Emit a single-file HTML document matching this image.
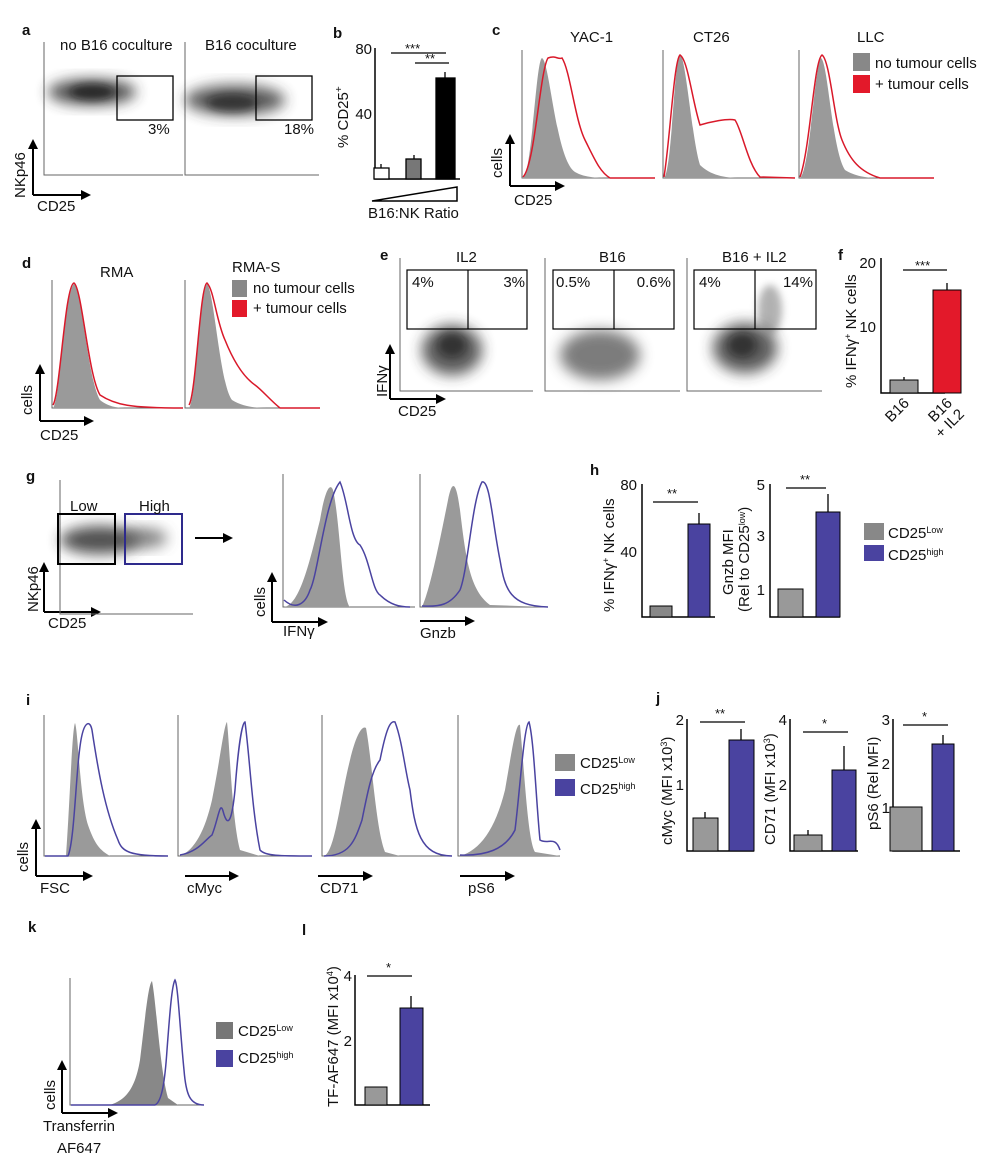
<!DOCTYPE html>
<html><head><style>
body{margin:0;background:#fff}
svg{display:block}
text{font-family:"Liberation Sans",Arial,sans-serif;fill:#111}
.L{font-weight:bold;font-size:15px}
.t{font-size:15px}
.s{font-size:13px}
.e{text-anchor:end}
</style></head><body>
<svg width="1000" height="1173" viewBox="0 0 1000 1173" xmlns="http://www.w3.org/2000/svg">
<defs>
<filter id="bl" x="-40%" y="-40%" width="180%" height="180%"><feGaussianBlur stdDeviation="7"/></filter>
<filter id="bl2" x="-40%" y="-40%" width="180%" height="180%"><feGaussianBlur stdDeviation="4"/></filter>
<marker id="ar" markerWidth="10" markerHeight="10" refX="7" refY="5" orient="auto" markerUnits="userSpaceOnUse"><path d="M0,0 L10,5 L0,10z" fill="#000"/></marker>
</defs>
<g stroke="#000" stroke-width="2" fill="none" marker-end="url(#ar)">
<path d="M33,195 V142"/><path d="M33,195 H88"/>
<path d="M510,186 V137"/><path d="M510,186 H562"/>
<path d="M40,421 V367"/><path d="M40,421 H91"/>
<path d="M390,399 V347"/><path d="M390,399 H443"/>
<path d="M44,612 V565"/><path d="M44,612 H98"/>
<path d="M272,622 V575"/><path d="M272,622 H325"/>
<path d="M420,621 H472"/>
<path d="M195,538 H230"/>
<path d="M36,876 V822"/><path d="M36,876 H90"/>
<path d="M185,876 H236"/><path d="M318,876 H370"/><path d="M460,876 H512"/>
<path d="M62,1113 V1063"/><path d="M62,1113 H115"/>
</g>
<text class="L" x="22" y="35">a</text><text class="L" x="333" y="38">b</text><text class="L" x="492" y="35">c</text>
<text class="L" x="22" y="268">d</text><text class="L" x="380" y="260">e</text><text class="L" x="838" y="260">f</text>
<text class="L" x="26" y="481">g</text><text class="L" x="590" y="475">h</text>
<text class="L" x="26" y="705">i</text><text class="L" x="656" y="703">j</text>
<text class="L" x="28" y="932">k</text><text class="L" x="302" y="935">l</text>
<!-- a -->
<path d="M44,42 V175 H183 M185,42 V175 H319" stroke="#666" stroke-width="1" fill="none"/>
<ellipse cx="92" cy="92" rx="44" ry="13" fill="#333" opacity="0.85" filter="url(#bl)"/>
<ellipse cx="92" cy="92" rx="22" ry="8" fill="#111" opacity="0.6" filter="url(#bl2)"/>
<ellipse cx="235" cy="100" rx="50" ry="15" fill="#333" opacity="0.8" filter="url(#bl)"/>
<ellipse cx="232" cy="103" rx="25" ry="9" fill="#111" opacity="0.5" filter="url(#bl2)"/>
<g stroke="#000" stroke-width="1.3" fill="none"><rect x="117" y="76" width="56" height="44"/><rect x="256" y="76" width="56" height="44"/></g>
<text class="t" x="60" y="50">no B16 coculture</text><text class="t" x="205" y="50">B16 coculture</text>
<text class="t" x="148" y="134">3%</text><text class="t" x="284" y="134">18%</text>
<text class="t" transform="translate(25,198) rotate(-90)">NKp46</text><text class="t" x="37" y="211">CD25</text>
<!-- b -->
<path d="M375,48 V179 H460" stroke="#000" stroke-width="1.5" fill="none"/>
<text class="t e" x="372" y="54">80</text><text class="t e" x="372" y="119">40</text>
<text class="t" transform="translate(348,148) rotate(-90)">% CD25<tspan dy="-6" font-size="10">+</tspan></text>
<g stroke="#000" stroke-width="1.3"><rect x="374" y="168" width="15" height="11" fill="#fff"/><rect x="406" y="159" width="15" height="20" fill="#777"/><rect x="436" y="78" width="19" height="101" fill="#000"/>
<path d="M381,168V164M414,159V155M445,78V72M391,53H446M415,63H449" fill="none"/></g>
<text class="s" x="405" y="53">***</text><text class="s" x="425" y="63">**</text>
<path d="M372,201 L457,187 V201Z" fill="none" stroke="#000" stroke-width="1.5"/>
<text class="t" x="368" y="218">B16:NK Ratio</text>
<!-- c -->
<path d="M522,50V178H655M663,50V178H795M799,50V178H934" stroke="#666" stroke-width="1" fill="none"/>
<path d="M523,178 C532,172 536,60 542,58 C550,62 556,160 575,172 C585,178 600,178 610,178Z" fill="#9a9a9a"/>
<path d="M523,177 C535,165 540,70 548,58 C556,55 558,60 562,58 C570,70 575,120 585,140 C595,160 600,172 610,178 L655,178" stroke="#d9192a" stroke-width="1.5" fill="none"/>
<path d="M664,178 C672,170 674,60 680,54 C686,58 692,140 700,165 C710,175 725,178 740,178Z" fill="#9a9a9a"/>
<path d="M664,177 C670,140 674,60 680,55 C688,60 692,100 700,125 C710,122 728,118 735,120 C742,130 748,165 760,177 L795,178" stroke="#d9192a" stroke-width="1.5" fill="none"/>
<path d="M800,178 C810,170 815,62 821,58 C828,62 832,150 845,170 C855,176 865,178 880,178Z" fill="#9a9a9a"/>
<path d="M800,177 C810,150 814,60 822,55 C830,60 834,120 842,140 C850,160 860,172 880,178 L934,178" stroke="#d9192a" stroke-width="1.5" fill="none"/>
<text class="t" x="570" y="42">YAC-1</text><text class="t" x="693" y="42">CT26</text><text class="t" x="857" y="42">LLC</text>
<rect x="853" y="53" width="17" height="18" fill="#888"/><rect x="853" y="75" width="17" height="18" fill="#e3192a"/>
<text class="t" x="875" y="68">no tumour cells</text><text class="t" x="875" y="89">+ tumour cells</text>
<text class="t" transform="translate(502,178) rotate(-90)">cells</text><text class="t" x="514" y="205">CD25</text>
<!-- d -->
<path d="M52,280V408H183M185,280V408H320" stroke="#666" stroke-width="1" fill="none"/>
<path d="M53,408 C60,400 65,290 74,284 C82,290 88,380 100,400 C110,408 120,408 130,408Z" fill="#9a9a9a"/>
<path d="M53,405 C60,395 65,285 74,283 C82,288 88,375 100,395 C115,405 130,408 183,408" stroke="#d9192a" stroke-width="1.5" fill="none"/>
<path d="M189,408 C196,400 200,290 207,284 C214,290 220,385 232,400 C245,408 260,408 270,408Z" fill="#9a9a9a"/>
<path d="M189,405 C196,395 200,285 207,283 C214,290 216,320 225,340 C235,365 245,378 255,385 C262,390 270,400 280,408 L320,408" stroke="#d9192a" stroke-width="1.5" fill="none"/>
<text class="t" x="100" y="277">RMA</text><text class="t" x="232" y="272">RMA-S</text>
<rect x="232" y="280" width="15" height="17" fill="#888"/><rect x="232" y="300" width="15" height="17" fill="#e3192a"/>
<text class="t" x="253" y="293">no tumour cells</text><text class="t" x="253" y="313">+ tumour cells</text>
<text class="t" transform="translate(32,415) rotate(-90)">cells</text><text class="t" x="40" y="440">CD25</text>
<!-- e -->
<path d="M400,258V391H533M545,258V391H680M687,258V391H822" stroke="#666" stroke-width="1" fill="none"/>
<ellipse cx="452" cy="350" rx="30" ry="25" fill="#333" opacity="0.8" filter="url(#bl)"/>
<ellipse cx="452" cy="345" rx="14" ry="12" fill="#111" opacity="0.5" filter="url(#bl2)"/>
<ellipse cx="600" cy="355" rx="40" ry="25" fill="#444" opacity="0.7" filter="url(#bl)"/>
<ellipse cx="745" cy="348" rx="32" ry="25" fill="#333" opacity="0.8" filter="url(#bl)"/>
<ellipse cx="742" cy="345" rx="14" ry="12" fill="#111" opacity="0.5" filter="url(#bl2)"/>
<ellipse cx="770" cy="310" rx="12" ry="25" fill="#666" filter="url(#bl2)" opacity="0.5"/>
<g stroke="#000" stroke-width="1.2" fill="none"><rect x="407" y="270" width="120" height="59"/><path d="M468,270V329"/><rect x="553" y="270" width="121" height="59"/><path d="M614,270V329"/><rect x="694" y="270" width="122" height="59"/><path d="M755,270V329"/></g>
<text class="t" x="456" y="262">IL2</text><text class="t" x="599" y="262">B16</text><text class="t" x="722" y="262">B16 + IL2</text>
<text class="t" x="412" y="287">4%</text><text class="t e" x="525" y="287">3%</text><text class="t" x="556" y="287">0.5%</text><text class="t e" x="671" y="287">0.6%</text><text class="t" x="699" y="287">4%</text><text class="t e" x="813" y="287">14%</text>
<text class="t" transform="translate(387,397) rotate(-90)">IFNγ</text><text class="t" x="398" y="416">CD25</text>
<!-- f -->
<path d="M881,258V393H945" stroke="#000" stroke-width="1.5" fill="none"/>
<text class="t e" x="876" y="268">20</text><text class="t e" x="876" y="332">10</text>
<text class="t" transform="translate(856,388) rotate(-90)">% IFNγ<tspan dy="-5" font-size="9">+</tspan><tspan dy="5"> NK cells</tspan></text>
<rect x="890" y="380" width="28" height="13" fill="#999" stroke="#000"/><rect x="933" y="290" width="28" height="103" fill="#e3192a" stroke="#000"/>
<path d="M904,380V377M947,290V283M903,270H947" stroke="#000" stroke-width="1.3"/>
<text class="s" x="915" y="270">***</text>
<text class="t e" transform="translate(910,404) rotate(-45)">B16</text><text class="t e" transform="translate(953,404) rotate(-45)">B16</text><text class="t e" transform="translate(965,415) rotate(-45)">+ IL2</text>
<!-- g -->
<path d="M60,480V614H193" stroke="#666" stroke-width="1" fill="none"/>
<ellipse cx="100" cy="540" rx="40" ry="14" fill="#333" opacity="0.85" filter="url(#bl)"/><ellipse cx="145" cy="538" rx="22" ry="10" fill="#555" filter="url(#bl)" opacity="0.7"/>
<rect x="58" y="514" width="57" height="50" fill="none" stroke="#000" stroke-width="2"/><rect x="125" y="514" width="57" height="50" fill="none" stroke="#2e2a8c" stroke-width="2"/>
<text class="t" x="70" y="511">Low</text><text class="t" x="139" y="511">High</text>
<text class="t" transform="translate(38,612) rotate(-90)">NKp46</text><text class="t" x="48" y="628">CD25</text>
<path d="M283,474V607H415M420,474V607H548" stroke="#666" stroke-width="1" fill="none"/>
<path d="M284,607 C300,605 310,560 320,520 C325,490 330,482 333,490 C340,520 342,600 350,607Z" fill="#9a9a9a"/>
<path d="M284,600 C295,610 305,605 310,590 C318,575 325,500 340,482 C348,500 350,540 360,545 C370,560 372,590 380,595 C390,605 400,607 410,607" stroke="#4a43a0" stroke-width="1.5" fill="none"/>
<path d="M422,607 C430,590 440,540 448,500 C452,480 456,480 460,510 C466,560 470,590 490,605 L548,607Z" fill="#9a9a9a"/>
<path d="M422,606 C440,607 450,605 460,590 C468,570 472,500 482,482 C490,480 492,520 500,560 C505,590 510,606 548,607" stroke="#4a43a0" stroke-width="1.5" fill="none"/>
<text class="t" transform="translate(265,617) rotate(-90)">cells</text><text class="t" x="283" y="636">IFNγ</text><text class="t" x="420" y="638">Gnzb</text>
<!-- h -->
<path d="M642,484V617H715" stroke="#000" stroke-width="1.5" fill="none"/>
<text class="t e" x="637" y="490">80</text><text class="t e" x="637" y="557">40</text>
<text class="t" transform="translate(614,612) rotate(-90)">% IFNγ<tspan dy="-5" font-size="9">+</tspan><tspan dy="5"> NK cells</tspan></text>
<rect x="650" y="606" width="22" height="11" fill="#888" stroke="#000"/><rect x="688" y="524" width="22" height="93" fill="#4a43a0" stroke="#000"/>
<path d="M699,524V513M653,502H698" stroke="#000" stroke-width="1.3"/><text class="s" x="667" y="498">**</text>
<path d="M770,484V617H840" stroke="#000" stroke-width="1.5" fill="none"/>
<text class="t e" x="765" y="490">5</text><text class="t e" x="765" y="541">3</text><text class="t e" x="765" y="595">1</text>
<text class="t" transform="translate(733,595) rotate(-90)">Gnzb MFI</text><text class="t" transform="translate(749,612) rotate(-90)">(Rel to CD25<tspan dy="-4" font-size="9">low</tspan><tspan dy="4">)</tspan></text>
<rect x="778" y="589" width="25" height="28" fill="#999" stroke="#000"/><rect x="816" y="512" width="24" height="105" fill="#4a43a0" stroke="#000"/>
<path d="M828,512V494M786,488H826" stroke="#000" stroke-width="1.3"/><text class="s" x="800" y="484">**</text>
<rect x="864" y="523" width="20" height="17" fill="#888"/><rect x="864" y="545" width="20" height="16" fill="#4a43a0"/>
<text class="t" x="888" y="538">CD25<tspan font-size="9" dy="-5">Low</tspan></text><text class="t" x="888" y="560">CD25<tspan font-size="9" dy="-5">high</tspan></text>
<!-- i -->
<path d="M44,715V856H168M178,715V856H312M322,715V856H452M458,715V856H560" stroke="#666" stroke-width="1" fill="none"/>
<path d="M66,856 C70,800 72,730 75,723 C78,730 80,800 88,825 C95,845 100,850 110,856Z" fill="#9a9a9a"/>
<path d="M45,856 L68,856 C75,840 76,760 82,735 C85,722 90,720 92,730 C98,770 105,810 118,840 C122,852 130,856 168,856" stroke="#4a43a0" stroke-width="1.5" fill="none"/>
<path d="M180,856 C195,850 205,830 212,800 C220,760 224,725 227,722 C230,750 232,820 240,850 L260,856Z" fill="#9a9a9a"/>
<path d="M180,855 C198,852 205,840 212,835 C218,820 220,800 223,811 C228,830 232,820 235,790 C238,750 242,722 245,722 C250,760 252,810 260,850 C265,856 280,856 312,856" stroke="#4a43a0" stroke-width="1.5" fill="none"/>
<path d="M324,856 C335,852 340,800 350,760 C356,735 362,725 366,728 C372,760 376,830 385,852 L400,856Z" fill="#9a9a9a"/>
<path d="M324,856 C350,856 355,840 362,820 C368,790 372,770 380,760 C386,730 390,720 395,722 C402,740 405,770 410,790 C415,830 420,856 452,856" stroke="#4a43a0" stroke-width="1.5" fill="none"/>
<path d="M460,856 C480,850 495,830 505,790 C512,750 516,722 520,725 C525,780 528,840 535,852 L560,856Z" fill="#9a9a9a"/>
<path d="M460,855 C485,856 505,850 515,830 C520,790 524,725 529,722 C534,740 536,800 540,840 C548,845 555,835 560,850" stroke="#4a43a0" stroke-width="1.5" fill="none"/>
<rect x="555" y="754" width="20" height="17" fill="#888"/><rect x="555" y="779" width="20" height="17" fill="#4a43a0"/>
<text class="t" x="580" y="768">CD25<tspan font-size="9" dy="-5">Low</tspan></text><text class="t" x="580" y="794">CD25<tspan font-size="9" dy="-5">high</tspan></text>
<text class="t" transform="translate(28,872) rotate(-90)">cells</text>
<text class="t" x="40" y="893">FSC</text><text class="t" x="187" y="893">cMyc</text><text class="t" x="320" y="893">CD71</text><text class="t" x="468" y="893">pS6</text>
<!-- j -->
<path d="M687,719V851H754M790,719V851H858M893,719V851H960" stroke="#000" stroke-width="1.5" fill="none"/>
<text class="t e" x="684" y="725">2</text><text class="t e" x="684" y="790">1</text>
<text class="t" transform="translate(672,845) rotate(-90)">cMyc (MFI x10<tspan font-size="9" dy="-5">3</tspan><tspan dy="5">)</tspan></text>
<rect x="693" y="818" width="25" height="33" fill="#999" stroke="#000"/><rect x="729" y="740" width="25" height="111" fill="#4a43a0" stroke="#000"/>
<path d="M705,818V812M741,740V729M700,722H745" stroke="#000" stroke-width="1.3"/><text class="s" x="715" y="718">**</text>
<text class="t e" x="787" y="725">4</text><text class="t e" x="787" y="790">2</text>
<text class="t" transform="translate(775,845) rotate(-90)">CD71 (MFI x10<tspan font-size="9" dy="-5">3</tspan><tspan dy="5">)</tspan></text>
<rect x="794" y="835" width="28" height="16" fill="#999" stroke="#000"/><rect x="832" y="770" width="24" height="81" fill="#4a43a0" stroke="#000"/>
<path d="M808,835V830M844,770V746M803,732H848" stroke="#000" stroke-width="1.3"/><text class="s" x="822" y="728">*</text>
<text class="t e" x="890" y="725">3</text><text class="t e" x="890" y="769">2</text><text class="t e" x="890" y="813">1</text>
<text class="t" transform="translate(878,830) rotate(-90)">pS6 (Rel MFI)</text>
<rect x="890" y="807" width="32" height="44" fill="#999" stroke="#000"/><rect x="932" y="744" width="22" height="107" fill="#4a43a0" stroke="#000"/>
<path d="M943,744V735M903,725H948" stroke="#000" stroke-width="1.3"/><text class="s" x="922" y="721">*</text>
<!-- k -->
<path d="M70,978V1105H204" stroke="#666" stroke-width="1" fill="none"/>
<path d="M110,1105 C125,1100 135,1090 140,1060 C145,1020 148,985 152,981 C156,1000 160,1070 168,1098 L178,1105Z" fill="#888"/>
<path d="M71,1105 L155,1105 C162,1102 165,1080 167,1050 C170,1010 172,985 175,980 C178,985 180,1030 184,1070 C186,1095 190,1105 204,1105" stroke="#4a43a0" stroke-width="1.5" fill="none"/>
<rect x="216" y="1022" width="17" height="17" fill="#777"/><rect x="216" y="1050" width="17" height="17" fill="#4a43a0"/>
<text class="t" x="238" y="1036">CD25<tspan font-size="9" dy="-5">Low</tspan></text><text class="t" x="238" y="1063">CD25<tspan font-size="9" dy="-5">high</tspan></text>
<text class="t" transform="translate(55,1110) rotate(-90)">cells</text>
<text class="t" x="43" y="1131">Transferrin</text><text class="t" x="57" y="1153">AF647</text>
<!-- l -->
<path d="M355,975V1105H430" stroke="#000" stroke-width="1.5" fill="none"/>
<text class="t e" x="352" y="981">4</text><text class="t e" x="352" y="1046">2</text>
<text class="t" transform="translate(338,1107) rotate(-90)">TF-AF647 (MFI x10<tspan font-size="9" dy="-5">4</tspan><tspan dy="5">)</tspan></text>
<rect x="365" y="1087" width="22" height="18" fill="#999" stroke="#000"/><rect x="400" y="1008" width="23" height="97" fill="#4a43a0" stroke="#000"/>
<path d="M411,1008V996M367,976H412" stroke="#000" stroke-width="1.3"/><text class="s" x="386" y="972">*</text>
</svg>
</body></html>
